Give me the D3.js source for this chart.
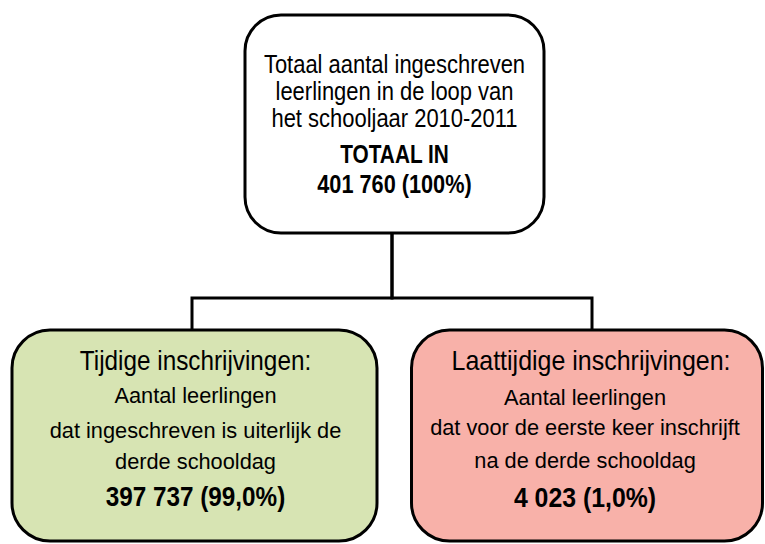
<!DOCTYPE html>
<html>
<head>
<meta charset="utf-8">
<script src="https://cdn.jsdelivr.net/npm/d3@7/dist/d3.min.js"></script>
<style>
  html, body { margin: 0; padding: 0; background: #ffffff; }
  svg { display: block; }
  text { font-family: "Liberation Sans", Arial, sans-serif; fill: #000; }
</style>
</head>
<body>
<svg id="chart" width="765" height="544"></svg>
<script>
// ---------- data ----------
const nodeNames = ["totaal", "tijdig", "laattijdig"];
const nodeParents = [null, "totaal", "totaal"];
const nodeTitles = ["", "Tijdige inschrijvingen:", "Laattijdige inschrijvingen:"];
const nodeDescriptions = [
  ["Totaal aantal ingeschreven", "leerlingen in de loop van", "het schooljaar 2010-2011"],
  ["Aantal leerlingen", "dat ingeschreven is uiterlijk de", "derde schooldag"],
  ["Aantal leerlingen", "dat voor de eerste keer inschrijft", "na de derde schooldag"]
];
const nodeLabels = ["TOTAAL IN", "", ""];
const nodeCounts = [401760, 397737, 4023];
const nodeShares = [100, 99.0, 1.0];

// ---------- layout / style (not data) ----------
const fills = { totaal: "#ffffff", tijdig: "#d7e4b3", laattijdig: "#f8b1a9" };
const boxStyle = {
  totaal:     { w: 299, h: 218, dx: 2.5, r: 36 },
  tijdig:     { w: 365, h: 211, dx: 2.5, r: 38 },
  laattijdig: { w: 351, h: 211, dx: -5,  r: 38 }
};
const lineStyle = {
  totaal: {
    cx: 0,
    desc:  { size: 26, sx: 0.845, weight: "normal", y: [58, 85, 112] },
    label: { size: 26, sx: 0.80,  weight: "bold",   y: 148 },
    num:   { size: 26, sx: 0.835, weight: "bold",   y: 178 }
  },
  tijdig: {
    cx: 1,
    title: { size: 27, sx: 0.90, weight: "normal", y: 40, dx: 0 },
    desc:  { size: 22, sx: 0.99, weight: "normal", y: [73, 108, 139] },
    num:   { size: 27, sx: 0.90, weight: "bold",   y: 176 }
  },
  laattijdig: {
    cx: -2,
    title: { size: 27, sx: 0.925, weight: "normal", y: 40, dx: 6 },
    desc:  { size: 22, sx: 0.99, weight: "normal", y: [75, 105, 138] },
    num:   { size: 27, sx: 0.92, weight: "bold",   y: 177 }
  }
};

const locale = d3.formatLocale({ decimal: ",", thousands: " ", grouping: [3], currency: ["", "€"] });
const fmtCount = locale.format(",.0f");
const fmtShare = v => (v === 100 ? locale.format(".0f")(v) : locale.format(".1f")(v)) + "%";

// ---------- hierarchy ----------
const table = nodeNames.map((name, i) => ({
  name, parent: nodeParents[i], title: nodeTitles[i], desc: nodeDescriptions[i],
  label: nodeLabels[i], count: nodeCounts[i], share: nodeShares[i]
}));
const root = d3.stratify().id(d => d.name).parentId(d => d.parent)(table);
d3.tree().size([800, 315])(root);

const svg = d3.select("#chart");
const g = svg.append("g").attr("transform", "translate(-8,15)");

// connectors (elbow)
const busY = 283;
g.selectAll("path.link")
  .data(root.links())
  .join("path")
  .attr("class", "link")
  .attr("fill", "none")
  .attr("stroke", "#000")
  .attr("stroke-width", 3)
  .attr("d", d => {
    const sy = d.source.y + boxStyle[d.source.id].h;
    return `M${d.source.x},${sy}V${busY}H${d.target.x}V${d.target.y + 2}`;
  });

// boxes
const nodes = g.selectAll("g.node")
  .data(root.descendants())
  .join("g")
  .attr("class", "node")
  .attr("transform", d => `translate(${d.x + boxStyle[d.id].dx},${d.y})`);

nodes.append("rect")
  .attr("x", d => -boxStyle[d.id].w / 2)
  .attr("y", 0)
  .attr("width", d => boxStyle[d.id].w)
  .attr("height", d => boxStyle[d.id].h)
  .attr("rx", d => boxStyle[d.id].r)
  .attr("ry", d => boxStyle[d.id].r)
  .attr("fill", d => fills[d.id])
  .attr("stroke", "#000")
  .attr("stroke-width", 3);

function addLine(sel, text, st, y, cx) {
  sel.append("text")
    .attr("transform", `translate(${cx + (st.dx || 0)},${y}) scale(${st.sx},1)`)
    .attr("text-anchor", "middle")
    .attr("font-size", st.size)
    .attr("font-weight", st.weight)
    .text(text);
}

nodes.each(function(d) {
  const sel = d3.select(this);
  const ls = lineStyle[d.id];
  const cx = ls.cx;
  if (d.data.title) addLine(sel, d.data.title, ls.title, ls.title.y, cx);
  d.data.desc.forEach((t, i) => addLine(sel, t, ls.desc, ls.desc.y[i], cx));
  if (d.data.label) addLine(sel, d.data.label, ls.label, ls.label.y, cx);
  addLine(sel, `${fmtCount(d.data.count)} (${fmtShare(d.data.share)})`, ls.num, ls.num.y, cx);
});
</script>
</body>
</html>
